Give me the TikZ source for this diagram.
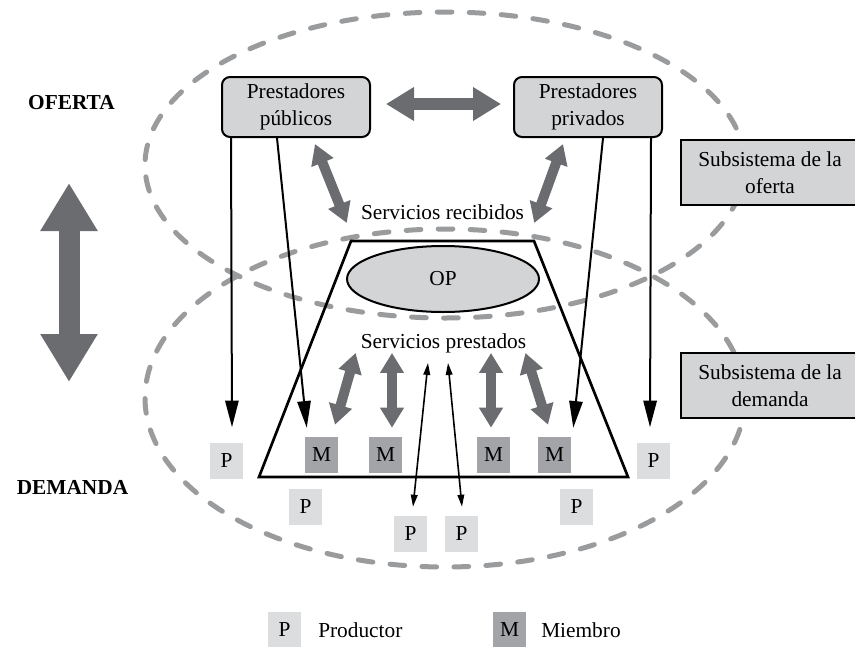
\documentclass[tikz,border=0pt]{standalone}
\usepackage{fontspec}
\setmainfont{Liberation Serif}
\usetikzlibrary{arrows.meta,calc,shapes.geometric}
\definecolor{trazo}{HTML}{9A9B9D}
\definecolor{flechagris}{HTML}{6B6C6F}
\definecolor{caja}{HTML}{D3D4D6}
\definecolor{prod}{HTML}{DCDDDF}
\definecolor{miem}{HTML}{A3A4A7}

\begin{document}
\begin{tikzpicture}[x=0.75pt, y=-0.75pt, font=\fontsize{16}{20}\selectfont,
    zona/.style={trazo, line width=3.75pt, line cap=round, dash pattern=on 11pt off 13pt},
    prest/.style={draw, line width=1.5pt, rounded corners=6pt, fill=caja, align=center,
      minimum width=111pt, minimum height=45pt, inner sep=0pt},
    subsis/.style={draw, line width=1.5pt, fill=caja, align=center,
      minimum width=134pt, minimum height=49pt, inner sep=0pt},
    cuadro/.style={minimum width=24.75pt, minimum height=27pt, inner sep=0pt},
    pcuad/.style={cuadro, fill=prod}, mcuad/.style={cuadro, fill=miem},
    texto/.style={inner sep=0pt},
    gruesa/.style={flechagris, line width=9pt, {Triangle[length=21pt,width=24pt]}-{Triangle[length=21pt,width=24pt]}},
    media/.style={flechagris, line width=7.5pt, {Triangle[length=15pt,width=17pt]}-{Triangle[length=15pt,width=17pt]}},
    flecha/.style={line width=1.5pt, -{Triangle[length=20pt,width=10pt]}},
    fina/.style={line width=1.2pt, {Triangle[length=9pt,width=5pt]}-{Triangle[length=9pt,width=5pt]}}]
    \useasboundingbox (0,0) rectangle (855,646);
    % les deux sous-systèmes
    \draw[zona] (445,165) ellipse [x radius=300, y radius=153];
    \draw[zona] (445,398) ellipse [x radius=300, y radius=169];
    \coordinate (T1) at (351,241); \coordinate (T2) at (534,241);
    \coordinate (T3) at (628,477); \coordinate (T4) at (259,477);
    \draw[line width=2pt, line join=miter] (T1) -- (T2) -- (T3) -- (T4) -- cycle;
    \node[draw, line width=1.5pt, fill=caja, ellipse, minimum width=144pt, minimum height=49.5pt, inner sep=0pt] (op) at (443,279) {OP};

    \node[prest] (pub) at (296,107) {Prestadores\\públicos};
    \node[prest] (priv) at (588,107) {Prestadores\\privados};
    \node[subsis] (sof) at (770,172.5) {Subsistema de la\\oferta};
    \node[subsis] (sdem) at (770,385.5) {Subsistema de la\\demanda};
    \node[texto, font=\fontsize{16}{20}\selectfont\bfseries] (of) at (71.5,103) {OFERTA};
    \node[texto, font=\fontsize{16}{20}\selectfont\bfseries] (dem) at (72.5,487) {DEMANDA};
    \node[texto] (recib) at (442.5,212) {Servicios recibidos};
    \node[texto] (prest) at (443.5,343) {Servicios prestados};

    \node[mcuad] (m1) at (321.5,455) {M};
    \node[mcuad] (m2) at (385.5,455) {M};
    \node[mcuad] (m3) at (493.5,455) {M};
    \node[mcuad] (m4) at (554.5,455) {M};
    \node[pcuad] (pl) at (226.5,460.5) {P};
    \node[pcuad] (pr) at (653.5,460.5) {P};
    \node[pcuad] (pa) at (305.5,507) {P};
    \node[pcuad] (pd) at (576.5,507) {P};
    \node[pcuad] (pb1) at (410.5,534) {P};
    \node[pcuad] (pb2) at (461.5,534) {P};

    % flèche verticale entre offre et demande
    \coordinate (Ha) at (69,183); \coordinate (Hb) at (69,382);
    \draw[flechagris, line width=15.75pt, {Triangle[length=36pt,width=40.5pt]}-{Triangle[length=36pt,width=40.5pt]}] (Ha) -- (Hb);

    \draw[gruesa] ($(pub.east)+(15,-3)$) -- ($(priv.west)+(-12,-3)$);
    \draw[media] ($(pub.south)+(19,6)$) -- ($(recib.west)+(-14,11)$);
    \draw[media] ($(priv.south)+(-25,6)$) -- ($(recib.east)+(10,11)$);
    \draw[media] ($(prest.south west)+(-5,0)$) -- ($(m1.north)+(13.5,-12)$);
    \draw[media] ($(prest.south)+(-51.5,0)$) -- ($(m2.north)+(6.5,-9)$);
    \draw[media] ($(prest.south)+(47.5,0)$) -- ($(m3.north)+(-2.5,-9)$);
    \draw[media] ($(prest.south east)+(-1,0)$) -- ($(m4.north)+(-6.5,-12)$);
    \draw[fina] ($(prest.south)+(-15.5,10)$) -- ($(pb1.north)+(2.5,-9)$);
    \draw[fina] ($(prest.south)+(4.5,10)$) -- ($(pb2.north)+(0.5,-9)$);

    \draw[flecha] ($(pub.south west)+(10,0)$) -- ($(pl.north)+(5.5,-15)$);
    \draw[flecha] ($(pub.south)+(-19,0)$) -- ($(m1.north west)+(2,-9)$);
    \draw[flecha] ($(priv.south)+(15,0)$) -- ($(m4.north east)+(2,-9)$);
    \draw[flecha] ($(priv.south east)+(-12,0)$) -- ($(pr.north)+(-3.5,-15)$);

    % légende
    \node[pcuad] (lp) at (284.5,630) {P};
    \node[texto, anchor=west] (lpt) at (318,630) {Productor};
    \node[mcuad] (lm) at (509.5,630) {M};
    \node[texto, anchor=west] (lmt) at (541,630) {Miembro};
\end{tikzpicture}
\end{document}
